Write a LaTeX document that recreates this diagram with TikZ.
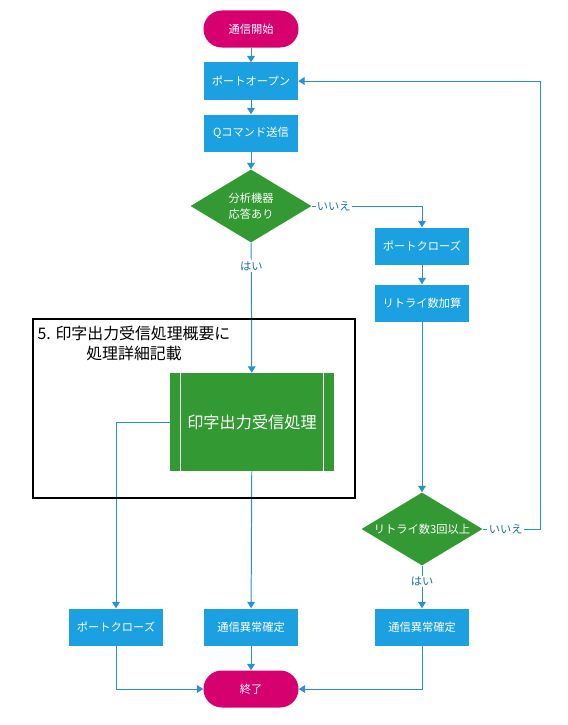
\documentclass[tikz,border=0pt]{standalone}
\usepackage{fontspec}
\setmainfont{Noto Sans CJK JP}
\usepackage{xcolor}
\usetikzlibrary{arrows.meta,shapes.geometric}
\definecolor{termpink}{HTML}{D6006F}
\definecolor{procblue}{HTML}{1BA1E2}
\definecolor{decgreen}{HTML}{339933}
\definecolor{flowblue}{HTML}{2990D2}
\definecolor{lblblue}{HTML}{1F6FB5}

\begin{document}
\begin{tikzpicture}[x=0.025cm,y=-0.025cm,>={Triangle[width=5.5pt,length=4.5pt]},
  term/.style={rectangle,rounded corners=0.46cm,fill=termpink,text=white,minimum width=2.375cm,
    minimum height=0.925cm,inner sep=0pt,font=\fontsize{8}{10}\selectfont},
  proc/.style={rectangle,fill=procblue,text=white,minimum width=2.35cm,
    minimum height=0.925cm,inner sep=0pt,font=\fontsize{8}{10}\selectfont},
  decide/.style={diamond,aspect=1.66,fill=decgreen,text=white,minimum width=3.025cm,
    minimum height=1.825cm,inner sep=0pt,align=center,font=\fontsize{8}{11.5}\selectfont},
  flow/.style={->,draw=flowblue,line width=0.7pt},
  lbl/.style={fill=white,text=lblblue,inner sep=1pt,font=\fontsize{8}{10}\selectfont}]
  \useasboundingbox (0,0) rectangle (567,725);

  % Main column
  \node[term] (start) at (251,29) {通信開始};
  \node[proc] (open) at (251,81) {ポートオープン};
  \node[proc] (qcmd) at (251,133) {Qコマンド送信};
  \node[decide] (ans) at (251,206) {分析機器\\応答あり};

  % Retry column
  \node[proc] (closeA) at (422,246) {ポートクローズ};
  \node[proc] (retry) at (422,303) {リトライ数加算};
  \node[decide] (limit) at (422,529) {リトライ数3回以上};
  \node[proc] (errB) at (422,627) {通信異常確定};
  \coordinate (loop) at (540,81);

  % Receive process
  \node[rectangle,fill=decgreen,text=white,minimum width=4.1cm,minimum height=2.45cm,
        font=\fontsize{11.5}{14}\selectfont] (recv) at (252,422) {印字出力受信処理};
  \draw[white,line width=0.7pt] ([xshift=0.275cm]recv.north west) -- ([xshift=0.275cm]recv.south west);
  \draw[white,line width=0.7pt] ([xshift=-0.275cm]recv.north east) -- ([xshift=-0.275cm]recv.south east);

  % Bottom row
  \node[proc] (closeB) at (116,627) {ポートクローズ};
  \node[proc] (errA) at (251,627) {通信異常確定};
  \node[term] (end) at (251,689) {終了};

  % Arrows
  \draw[flow] (start) -- (open);
  \draw[flow] (open) -- (qcmd);
  \draw[flow] (qcmd) -- (ans);
  \draw[flow] (ans.east) -- node[lbl,pos=0.2] {いいえ} (ans.east -| closeA) -- (closeA);
  \draw[flow] (closeA) -- (retry);
  \draw[flow] (retry) -- (limit);
  \draw[flow] (limit.east) -- node[lbl,pos=0.4] {いいえ} (limit.east -| loop) -- (loop) -- (open.east);
  \draw[flow] (limit) -- node[lbl,pos=0.37] {はい} (errB);
  \draw[flow] (ans) -- node[lbl,pos=0.18] {はい} (recv);
  \draw[flow] (recv.west) -| (closeB);
  \draw[flow] (recv) -- (errA);
  \draw[flow] (errA) -- (end);
  \draw[flow] (closeB) |- (end);
  \draw[flow] (errB) |- (end);

  % Frame
  \node[draw,line width=2pt,minimum width=8.05cm,minimum height=4.475cm] (frame) at (194,408.5) {};
  \node[anchor=north,align=center,font=\fontsize{11.3}{14}\selectfont] (ftitle) at (134,321)
    {5. 印字出力受信処理概要に\\処理詳細記載};
\end{tikzpicture}
\end{document}
